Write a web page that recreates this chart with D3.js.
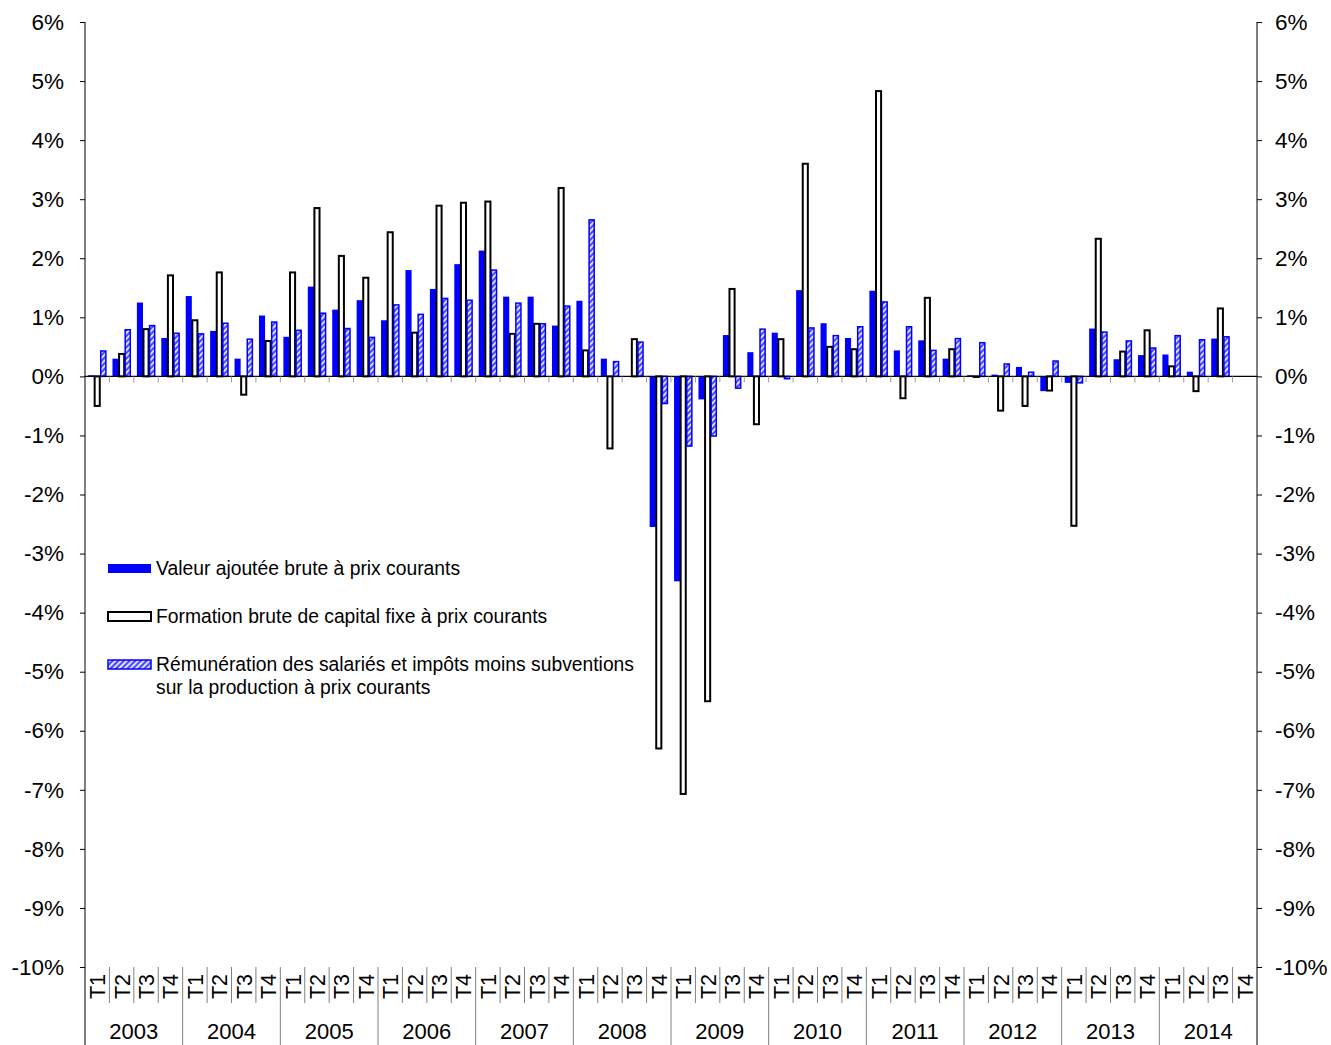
<!DOCTYPE html>
<html><head><meta charset="utf-8">
<script src="https://cdn.jsdelivr.net/npm/d3@7"></script>
<style>
body{margin:0;background:#fff;}
text{font-family:"Liberation Sans",Arial,sans-serif;fill:#000;}
</style></head>
<body>
<svg id="chart" width="1331" height="1045"></svg>
<script>
const years = ["2003","2004","2005","2006","2007","2008","2009","2010","2011","2012","2013","2014"];
const quarters = ["T1","T2","T3","T4"];
const yTicks = [6,5,4,3,2,1,0,-1,-2,-3,-4,-5,-6,-7,-8,-9,-10];
const seriesNames = [
  "Valeur ajoutée brute à prix courants",
  "Formation brute de capital fixe à prix courants",
  "Rémunération des salariés et impôts moins subventions sur la production à prix courants"
];
// values in %, 2003T1 .. 2014T4 (null = no data)
const valeurAjoutee = [
  0.02,0.30,1.25,0.65, 1.36,0.77,0.30,1.03, 0.67,1.52,1.13,1.29,
  0.95,1.80,1.48,1.90, 2.13,1.35,1.35,0.86, 1.28,0.30,0.00,-2.55,
  -3.47,-0.39,0.70,0.41, 0.74,1.46,0.90,0.65, 1.45,0.44,0.61,0.30,
  0.02,0.03,0.16,-0.25, -0.11,0.81,0.29,0.36, 0.37,0.08,0.64,null
];
const fbcf = [
  -0.50,0.38,0.80,1.71, 0.95,1.76,-0.31,0.60, 1.76,2.85,2.04,1.67,
  2.44,0.74,2.89,2.94, 2.96,0.72,0.89,3.19, 0.44,-1.22,0.63,-6.30,
  -7.07,-5.50,1.48,-0.81, 0.63,3.60,0.50,0.46, 4.83,-0.37,1.33,0.46,
  -0.01,-0.58,-0.50,-0.24, -2.53,2.33,0.42,0.78, 0.17,-0.25,1.15,null
];
const remuneration = [
  0.43,0.79,0.86,0.73, 0.72,0.90,0.63,0.92, 0.78,1.07,0.81,0.66,
  1.21,1.05,1.32,1.29, 1.80,1.24,0.89,1.19, 2.65,0.25,0.58,-0.46,
  -1.18,-1.01,-0.20,0.80, -0.04,0.82,0.69,0.84, 1.26,0.84,0.44,0.64,
  0.57,0.21,0.07,0.26, -0.11,0.75,0.60,0.48, 0.69,0.62,0.67,null
];

const svg = d3.select("#chart");
const L = 85, R = 1257, T = 22, B = 967;
const defs = svg.append("defs");
const pat = defs.append("pattern").attr("id","hatch").attr("patternUnits","userSpaceOnUse")
  .attr("width",4).attr("height",4).attr("patternTransform","rotate(45)");
pat.append("rect").attr("width",4).attr("height",4).attr("fill","#4a4aff");
pat.append("rect").attr("width",1.6).attr("height",4).attr("fill","#fff");

const cats = [];
years.forEach(y => quarters.forEach(q => cats.push(y+"-"+q)));
const x = d3.scaleBand().domain(cats).range([L,R]).padding(0);
const sx = d3.scaleBand().domain([0,1,2]).range([0,x.bandwidth()]).paddingInner(0).paddingOuter(0.5);
const y = d3.scaleLinear().domain([-10,6]).range([B,T]);

// axes
const yl = svg.append("g").attr("transform",`translate(${L},0)`)
  .call(d3.axisLeft(y).tickValues(yTicks).tickSize(5).tickPadding(16).tickFormat(d=>d+"%"));
const yr = svg.append("g").attr("transform",`translate(${R},0)`)
  .call(d3.axisRight(y).tickValues(yTicks).tickSize(5).tickPadding(13).tickFormat(d=>d+"%"));
[yl,yr].forEach(g=>{
  g.select(".domain").remove();
  g.selectAll(".tick line").attr("stroke","#000");
  g.selectAll("text").style("font-size","22.5px").attr("font-family","Liberation Sans, Arial, sans-serif");
});
svg.append("line").attr("x1",L).attr("x2",L).attr("y1",T).attr("y2",1045).attr("stroke","#000");
svg.append("line").attr("x1",R).attr("x2",R).attr("y1",T).attr("y2",1045).attr("stroke","#000");

// bars
const series = [valeurAjoutee, fbcf, remuneration];
series.forEach((vals,si)=>{
  const g = svg.append("g");
  g.selectAll("rect").data(cats.map((c,i)=>({c,v:vals[i]})).filter(d=>d.v!==null && d.v!==0))
    .enter().append("rect")
    .attr("x",d=>x(d.c)+sx(si) + (si===0?0:0.5))
    .attr("width",sx.bandwidth() - (si===0?0:1))
    .attr("y",d=>y(Math.max(0,d.v)))
    .attr("height",d=>Math.max(0.5,Math.abs(y(d.v)-y(0))))
    .attr("fill", si===0?"#0000ff":(si===1?"#fff":"url(#hatch)"))
    .attr("stroke", si===0?"none":(si===1?"#000":"#0000ff"))
    .attr("stroke-width", si===1?2:1.5);
});

// zero line and ticks
svg.append("line").attr("x1",L).attr("x2",R).attr("y1",y(0)).attr("y2",y(0)).attr("stroke","#000").attr("stroke-width",1.2);
svg.append("g").selectAll("line").data(cats.slice(1)).enter().append("line")
  .attr("x1",d=>x(d)).attr("x2",d=>x(d)).attr("y1",y(0)).attr("y2",y(0)+6)
  .attr("stroke","#999");

// category labels
const cg = svg.append("g");
cg.selectAll("line.q").data(cats.slice(1)).enter().append("line")
  .attr("x1",d=>x(d)).attr("x2",d=>x(d)).attr("y1",B)
  .attr("y2",(d,i)=>((i+1)%4===0)?1045:1003)
  .attr("stroke","#808080");
cg.selectAll("text.q").data(cats).enter().append("text")
  .attr("transform",d=>`translate(${x(d)+x.bandwidth()/2+1},974) rotate(-90)`)
  .attr("text-anchor","end").attr("dominant-baseline","central")
  .style("font-size","21.5px").text(d=>d.split("-")[1]);
cg.selectAll("text.y").data(years).enter().append("text")
  .attr("x",d=>x(d+"-T1")+2*x.bandwidth()).attr("y",1039)
  .attr("text-anchor","middle").style("font-size","22px").text(d=>d);

// legend
const lg = svg.append("g");
const items = [
  {y:568, fill:"#0000ff", stroke:"none", lines:[seriesNames[0]]},
  {y:616, fill:"#fff", stroke:"#000", lines:[seriesNames[1]]},
  {y:664, fill:"url(#hatch)", stroke:"#0000ff", lines:["Rémunération des salariés et impôts moins subventions","sur la production à prix courants"]}
];
items.forEach(it=>{
  lg.append("rect").attr("x",108).attr("y",it.y-4).attr("width",43).attr("height",9)
    .attr("fill",it.fill).attr("stroke",it.stroke).attr("stroke-width",it.stroke==="#000"?2:1.5);
  it.lines.forEach((t,k)=>{
    lg.append("text").attr("x",156).attr("y",it.y+7+k*23).style("font-size","19.3px").text(t);
  });
});
</script>
</body></html>
